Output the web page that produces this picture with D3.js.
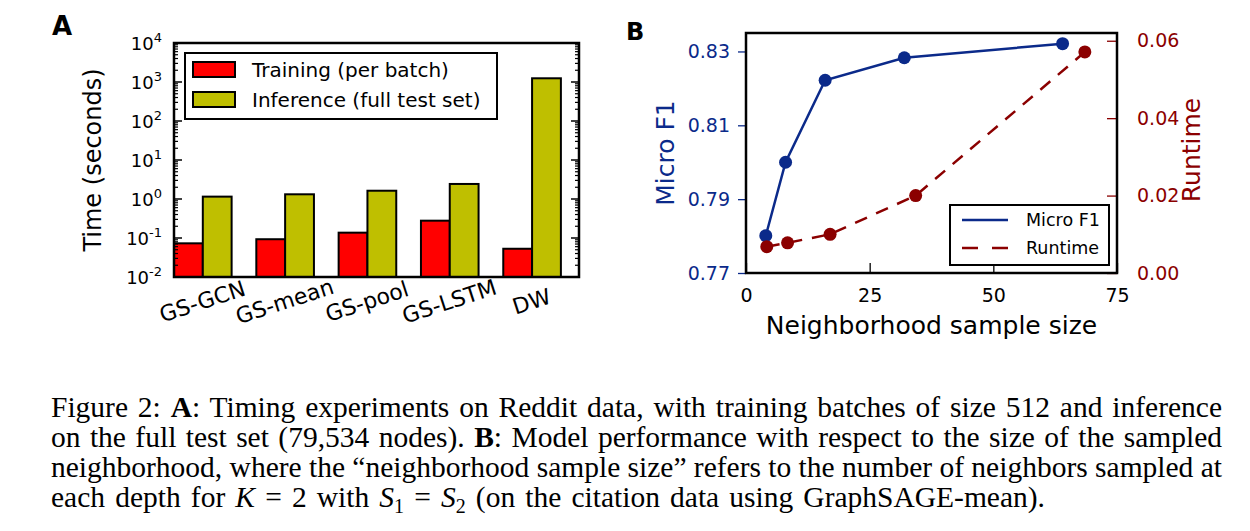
<!DOCTYPE html>
<html><head><meta charset="utf-8">
<script src="https://cdn.jsdelivr.net/npm/d3@7"></script>
<style>
html,body{margin:0;padding:0;background:#fff;}
svg{display:block;}
text{font-family:"DejaVu Sans",sans-serif;}
</style></head>
<body>
<svg id="chart" width="1250" height="531"></svg>
<script>
// ---------- DATA ----------
const models = ["GS-GCN","GS-mean","GS-pool","GS-LSTM","DW"];
const trainingTime = [0.073, 0.093, 0.137, 0.278, 0.053];
const inferenceTime = [1.15, 1.32, 1.63, 2.43, 1245];
const seriesA = ["Training (per batch)", "Inference (full test set)"];
const logTickExps = [-2,-1,0,1,2,3,4];

const sampleSizeF1 = [4, 8, 16, 32, 64];
const microF1 = [0.7801, 0.8000, 0.8222, 0.8283, 0.8321];
const sampleSizeRt = [4.2, 8.4, 17, 34.3, 68.5];
const runtime = [0.0068, 0.0078, 0.0100, 0.0200, 0.0571];
const xTicksB = [0, 25, 50, 75];
const f1Ticks = [0.77, 0.79, 0.81, 0.83];
const rtTicks = [0.00, 0.02, 0.04, 0.06];
const seriesB = ["Micro F1", "Runtime"];

const captionLines = [
  [["Figure 2: ",""],["A","b"],[": Timing experiments on Reddit data, with training batches of size 512 and inference",""]],
  [["on the full test set (79,534 nodes). ",""],["B","b"],[": Model performance with respect to the size of the sampled",""]],
  [["neighborhood, where the \u201cneighborhood sample size\u201d refers to the number of neighbors sampled at",""]],
  [["each depth for ",""],["K","i"],[" = 2 with ",""],["S","i"],["1","sub"],[" = ",""],["S","i"],["2","sub"],[" (on the citation data using GraphSAGE-mean).",""]]
];
const captionWidths = [1171, 1171, 1171, 994];

// ---------- STYLE ----------
const RED = "#ff0000", OLIVE = "#bfbf00", NAVY = "#0b2a8a", DRED = "#8b0000";
const svg = d3.select("#chart");

// ---------- PANEL A ----------
const A = {l:174, r:579, t:43, b:277};
const xA = d3.scaleLinear().domain([0, 4.92]).range([A.l, A.r]);
const yA = d3.scaleLog().domain([1e-2, 1e4]).range([A.b, A.t]);
const bw = 0.35;
const gA = svg.append("g");

models.forEach((m,i)=>{
  gA.append("rect").attr("x", xA(i)).attr("width", xA(i+bw)-xA(i))
    .attr("y", yA(trainingTime[i])).attr("height", yA(1e-2)-yA(trainingTime[i]))
    .attr("fill", RED).attr("stroke","#000").attr("stroke-width",2);
  gA.append("rect").attr("x", xA(i+bw)).attr("width", xA(i+2*bw)-xA(i+bw))
    .attr("y", yA(inferenceTime[i])).attr("height", yA(1e-2)-yA(inferenceTime[i]))
    .attr("fill", OLIVE).attr("stroke","#000").attr("stroke-width",2);
});

const minorVals = [];
for (let e=-2;e<4;e++) for (let m=2;m<10;m++) minorVals.push(m*Math.pow(10,e));
const majorVals = logTickExps.map(e=>Math.pow(10,e));
const tickG = gA.append("g").attr("stroke","#000").attr("stroke-width",1.2);
majorVals.forEach(v=>{
  tickG.append("line").attr("x1",A.l).attr("x2",A.l+8).attr("y1",yA(v)).attr("y2",yA(v)).attr("stroke-width",1.5);
  tickG.append("line").attr("x1",A.r).attr("x2",A.r-8).attr("y1",yA(v)).attr("y2",yA(v)).attr("stroke-width",1.5);
});
minorVals.forEach(v=>{
  tickG.append("line").attr("x1",A.l).attr("x2",A.l+4).attr("y1",yA(v)).attr("y2",yA(v));
  tickG.append("line").attr("x1",A.r).attr("x2",A.r-4).attr("y1",yA(v)).attr("y2",yA(v));
});

logTickExps.forEach(e=>{
  const t = gA.append("text").attr("x", A.l-12).attr("y", yA(Math.pow(10,e))+7)
    .attr("text-anchor","end").attr("font-size",18).attr("fill","#000");
  t.append("tspan").text("10");
  t.append("tspan").attr("dy",-8).attr("font-size",13).text(String(e));
});

gA.append("rect").attr("x",A.l).attr("y",A.t).attr("width",A.r-A.l).attr("height",A.b-A.t)
  .attr("fill","none").attr("stroke","#000").attr("stroke-width",2.5);

models.forEach((m,i)=>{
  const cx = xA(i+bw), cy = 303;
  gA.append("text").attr("transform",`translate(${cx},${cy}) rotate(-18)`)
    .attr("text-anchor","middle").attr("dominant-baseline","middle")
    .attr("font-size",22).text(m);
});

gA.append("text").attr("transform","translate(101,160) rotate(-90)")
  .attr("text-anchor","middle").attr("font-size",24).text("Time (seconds)");

const legA = gA.append("g");
legA.append("rect").attr("x",185).attr("y",53).attr("width",312).attr("height",66)
  .attr("fill","#fff").attr("stroke","#000").attr("stroke-width",2);
[RED, OLIVE].forEach((c,k)=>{
  legA.append("rect").attr("x",193).attr("y",62+30*k).attr("width",42).attr("height",15)
    .attr("fill",c).attr("stroke","#000").attr("stroke-width",2);
  legA.append("text").attr("x",252).attr("y",77+30*k).attr("font-size",20).text(seriesA[k]);
});

svg.append("text").attr("x",52).attr("y",35).attr("font-size",26).attr("font-weight","bold").text("A");

// ---------- PANEL B ----------
const B = {l:746, r:1117, t:33, b:273};
const xB = d3.scaleLinear().domain([0,75]).range([B.l,B.r]);
const yL = d3.scaleLinear().domain([0.77,0.835]).range([B.b,B.t]);
const yR = d3.scaleLinear().domain([0,0.062]).range([B.b,B.t]);
const gB = svg.append("g");

const axB = d3.axisBottom(xB).tickValues(xTicksB).tickSize(-10).tickPadding(16).tickFormat(d3.format("d"));
const axBg = gB.append("g").attr("transform",`translate(0,${B.b})`).call(axB);
axBg.select(".domain").remove();
axBg.selectAll("line").attr("stroke","#000").attr("stroke-width",1.3);
axBg.selectAll("text").attr("font-size",19).attr("font-family","DejaVu Sans").attr("fill","#000");

const axL = d3.axisLeft(yL).tickValues(f1Ticks).tickSize(8).tickPadding(8).tickFormat(d3.format(".2f"));
const axLg = gB.append("g").attr("transform",`translate(${B.l},0)`).call(axL);
axLg.select(".domain").remove();
axLg.selectAll("line").attr("stroke",NAVY).attr("stroke-width",1.3);
axLg.selectAll("text").attr("font-size",19).attr("font-family","DejaVu Sans").attr("fill",NAVY);

const axR = d3.axisRight(yR).tickValues(rtTicks).tickSize(-10).tickPadding(20).tickFormat(d3.format(".2f"));
const axRg = gB.append("g").attr("transform",`translate(${B.r},0)`).call(axR);
axRg.select(".domain").remove();
axRg.selectAll("line").attr("stroke",DRED).attr("stroke-width",1.3);
axRg.selectAll("text").attr("font-size",19).attr("font-family","DejaVu Sans").attr("fill",DRED);

const lineF1 = d3.line().x((d,i)=>xB(sampleSizeF1[i])).y(d=>yL(d));
const lineRt = d3.line().x((d,i)=>xB(sampleSizeRt[i])).y(d=>yR(d));
gB.append("path").attr("d",lineF1(microF1)).attr("fill","none").attr("stroke",NAVY).attr("stroke-width",2.5);
gB.append("path").attr("d",lineRt(runtime)).attr("fill","none").attr("stroke",DRED).attr("stroke-width",2.5)
  .attr("stroke-dasharray","13,10");
gB.selectAll(".dF1").data(microF1).enter().append("circle")
  .attr("cx",(d,i)=>xB(sampleSizeF1[i])).attr("cy",d=>yL(d)).attr("r",6.5).attr("fill",NAVY);
gB.selectAll(".dRt").data(runtime).enter().append("circle")
  .attr("cx",(d,i)=>xB(sampleSizeRt[i])).attr("cy",d=>yR(d)).attr("r",6.5).attr("fill",DRED);

gB.append("rect").attr("x",B.l).attr("y",B.t).attr("width",B.r-B.l).attr("height",B.b-B.t)
  .attr("fill","none").attr("stroke","#000").attr("stroke-width",2.5);

const legB = gB.append("g");
legB.append("rect").attr("x",950).attr("y",205).attr("width",159).attr("height",60)
  .attr("fill","#fff").attr("stroke","#000").attr("stroke-width",2);
legB.append("line").attr("x1",962).attr("x2",1008).attr("y1",220).attr("y2",220).attr("stroke",NAVY).attr("stroke-width",2.5);
legB.append("line").attr("x1",962).attr("x2",1008).attr("y1",248).attr("y2",248).attr("stroke",DRED).attr("stroke-width",2.5).attr("stroke-dasharray","16,14");
seriesB.forEach((s,k)=>{
  legB.append("text").attr("x",1026).attr("y",226+28*k).attr("font-size",17.5).text(s);
});

gB.append("text").attr("x",(B.l+B.r)/2).attr("y",334).attr("text-anchor","middle").attr("font-size",25).text("Neighborhood sample size");
gB.append("text").attr("transform","translate(674,153) rotate(-90)").attr("text-anchor","middle").attr("font-size",25).attr("fill",NAVY).text("Micro F1");
gB.append("text").attr("transform","translate(1200,150) rotate(-90)").attr("text-anchor","middle").attr("font-size",25).attr("fill",DRED).text("Runtime");

svg.append("text").attr("x",626).attr("y",40).attr("font-size",24).attr("font-weight","bold").text("B");

// ---------- CAPTION ----------
const capX0 = 51, capY0 = 417, capDy = 30;
const SERIF = "'Liberation Serif','Times New Roman',serif";
captionLines.forEach((segs, li)=>{
  const t = svg.append("text").attr("x",capX0).attr("y",capY0+li*capDy)
    .attr("font-size",29.5).attr("fill","#000").style("font-family",SERIF);
  let inSub = false;
  segs.forEach(([s,st])=>{
    const sp = t.append("tspan").text(s).style("font-family",SERIF);
    if (st==="b") sp.attr("font-weight","bold");
    if (st==="i") sp.attr("font-style","italic");
    if (st==="sub") { sp.attr("font-size",20).attr("dy", inSub?0:6); inSub = true; }
    else if (inSub) { sp.attr("dy",-6); inSub = false; }
  });
  const target = captionWidths[li];
  const natural = t.node().getComputedTextLength();
  const nSpaces = segs.map(s=>s[0]).join("").split(" ").length-1;
  let extra = (target-natural)/nSpaces;
  if (extra < -2.5) {
    t.attr("word-spacing", -2.5);
    t.attr("textLength", target).attr("lengthAdjust","spacingAndGlyphs");
  } else {
    t.attr("word-spacing", extra);
  }
});
</script>
</body></html>
